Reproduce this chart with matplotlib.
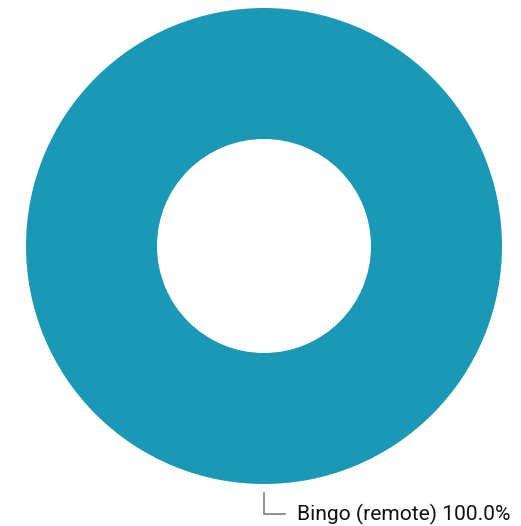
import numpy as np
import matplotlib.pyplot as plt

plt.rcParams['font.family'] = ['Roboto', 'DejaVu Sans']

categorias = ["Bingo (remote)"]
valores = [100.0]
cores = ["#1B98B5"]

W, H = 521, 526
fig = plt.figure(figsize=(W / 100, H / 100), dpi=100)
ax = fig.add_axes([0, 0, 1, 1])

cx, cy = 264, H - 246
raio = 238
wedges, _ = ax.pie(valores, colors=cores, radius=raio, center=(cx, cy),
                   startangle=90, counterclock=False,
                   wedgeprops=dict(width=raio - 107, linewidth=0))

total = sum(valores)
for w, nome, v in zip(wedges, categorias, valores):
    # ponto de saida do rotulo: parte de baixo do anel
    x0, y0 = cx, cy - raio - 9
    ax.plot([x0, x0, x0 + 21], [y0, y0 - 21, y0 - 21], color="#888888", lw=1.3,
            solid_joinstyle="miter")
    ax.text(x0 + 33, y0 - 21, f"{nome} {v / total * 100:.1f}%", fontsize=15.1,
            va="center", ha="left", color="#111111")

ax.set_xlim(0, W)
ax.set_ylim(0, H)
ax.set_aspect("equal")
ax.axis("off")
fig.savefig("out.png", dpi=100)
